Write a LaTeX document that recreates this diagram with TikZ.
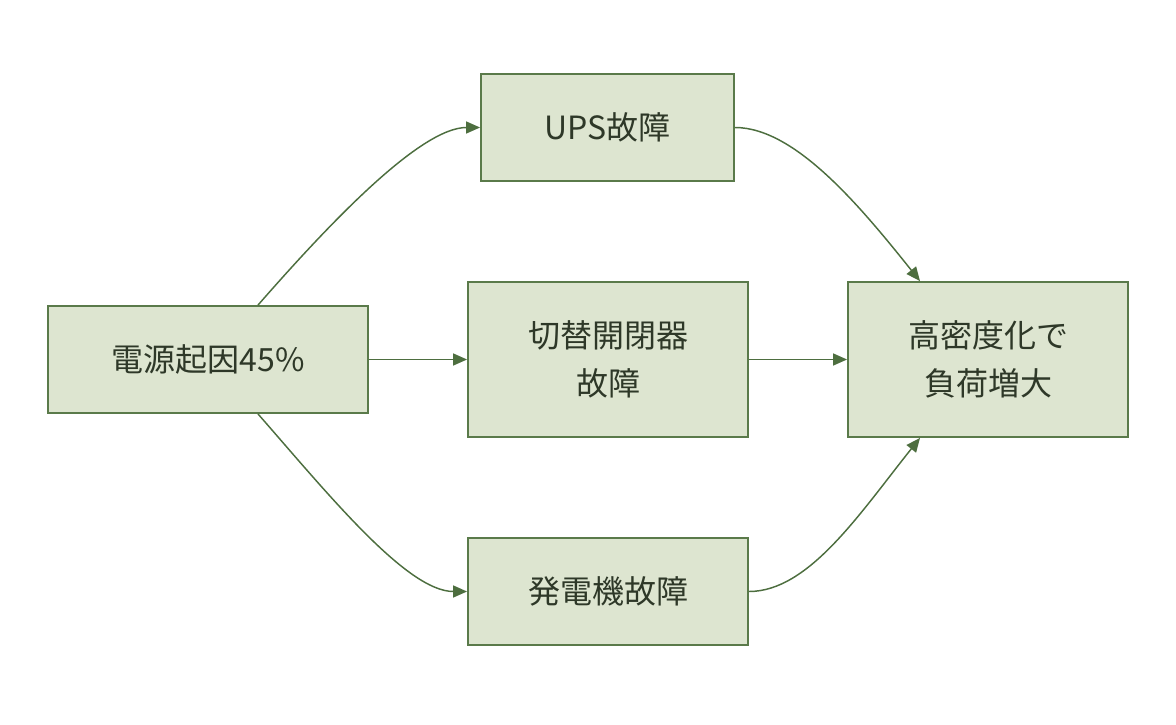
\documentclass[tikz,border=0pt]{standalone}
\usepackage{fontspec}
\setmainfont{Noto Sans CJK JP}
\usetikzlibrary{arrows.meta}
\definecolor{boxfill}{HTML}{DDE5D0}
\definecolor{boxline}{HTML}{5A7A4A}
\definecolor{edgecol}{HTML}{4D6E3F}
\definecolor{txt}{HTML}{2E3828}
\tikzset{
  box/.style={draw=boxline, fill=boxfill, line width=1.4pt, inner sep=0pt,
    text=txt, align=center, font=\fontsize{24pt}{36pt}\selectfont},
  edge/.style={draw=edgecol, line width=1.1pt, -{Triangle[length=10.5pt,width=9pt]}}
}
\begin{document}
\begin{tikzpicture}[x=0.75pt,y=-0.75pt]
\useasboundingbox (0,0) rectangle (1176,724);
\node[box, minimum width=240pt, minimum height=80.25pt] (a) at (208,359.5) {電源起因45\%};
\node[box, minimum width=189.75pt, minimum height=80.25pt] (b) at (607.5,127.5) {UPS故障};
\node[box, minimum width=210pt, minimum height=116.25pt] (c) at (608,359.5) {切替開閉器\\故障};
\node[box, minimum width=210pt, minimum height=80.25pt] (d) at (608,591.5) {発電機故障};
\node[box, minimum width=210pt, minimum height=116.25pt] (e) at (988,359.5) {高密度化で\\負荷増大};
\draw[edge] ([xshift=37.5pt]a.north) .. controls +(70,-80) and +(-60,0) .. (b.west);
\draw[edge] (a.east) -- (c.west);
\draw[edge] ([xshift=37.5pt]a.south) .. controls +(70,80) and +(-60,0) .. (d.west);
\draw[edge] (b.east) .. controls +(60,0) and +(-60,-75) .. ([xshift=-51pt]e.north);
\draw[edge] (c.east) -- (e.west);
\draw[edge] (d.east) .. controls +(60,0) and +(-60,75) .. ([xshift=-51pt]e.south);
\end{tikzpicture}
\end{document}
